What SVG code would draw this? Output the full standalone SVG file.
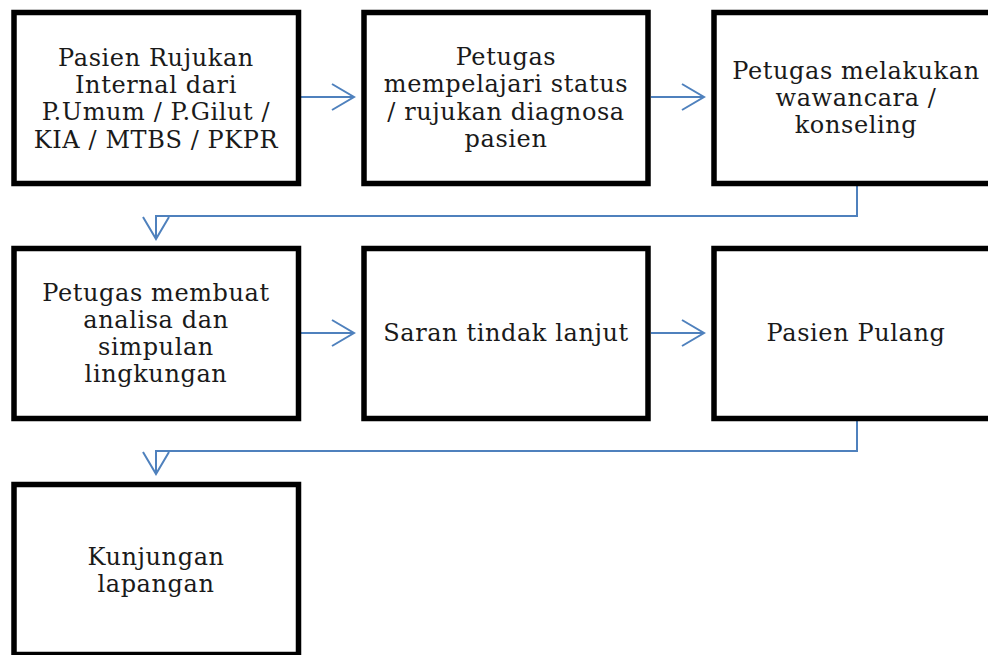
<svg xmlns="http://www.w3.org/2000/svg" width="988" height="655" viewBox="0 0 988 655">
<defs>
<style>
.box{fill:#fff;stroke:#000;stroke-width:5.5;}
.t{font-family:"DejaVu Serif","Liberation Serif",serif;font-size:24px;fill:#1a1a1a;text-anchor:middle;letter-spacing:0.6px;}
.c{fill:none;stroke:#4f81bd;stroke-width:2;}
</style>
<marker id="ah" markerUnits="userSpaceOnUse" markerWidth="30" markerHeight="30" refX="22" refY="13" orient="auto" overflow="visible">
<path d="M0,0 L22,13 L0,26" fill="none" stroke="#4f81bd" stroke-width="2"/>
</marker>
</defs>
<rect width="988" height="655" fill="#fff"/>
<g id="connectors">
<path class="c" d="M301,97 H354" marker-end="url(#ah)"/>
<path class="c" d="M651,97 H704" marker-end="url(#ah)"/>
<path class="c" d="M857,186 V216 H156 V239" marker-end="url(#ah)"/>
<path class="c" d="M301,333 H354" marker-end="url(#ah)"/>
<path class="c" d="M651,333 H704" marker-end="url(#ah)"/>
<path class="c" d="M857,421 V451 H156 V474" marker-end="url(#ah)"/>
</g>
<g id="n1"><rect class="box" x="14" y="12.5" width="284.5" height="171"/>
<text class="t" x="156"><tspan x="156" y="66">Pasien Rujukan</tspan><tspan x="156" y="93">Internal dari</tspan><tspan x="156" y="120">P.Umum / P.Gilut /</tspan><tspan x="156" y="148">KIA / MTBS / PKPR</tspan></text></g>
<g id="n2"><rect class="box" x="364" y="12.5" width="284" height="171"/>
<text class="t" x="506"><tspan x="506" y="65">Petugas</tspan><tspan x="506" y="92">mempelajari status</tspan><tspan x="506" y="120">/ rujukan diagnosa</tspan><tspan x="506" y="147">pasien</tspan></text></g>
<g id="n3"><rect class="box" x="714" y="12.5" width="284" height="171"/>
<text class="t" x="856"><tspan x="856" y="79">Petugas melakukan</tspan><tspan x="856" y="106">wawancara /</tspan><tspan x="856" y="133">konseling</tspan></text></g>
<g id="n4"><rect class="box" x="14" y="248.5" width="284.5" height="170"/>
<text class="t" x="156"><tspan x="156" y="301">Petugas membuat</tspan><tspan x="156" y="328">analisa dan</tspan><tspan x="156" y="355">simpulan</tspan><tspan x="156" y="382">lingkungan</tspan></text></g>
<g id="n5"><rect class="box" x="364" y="248.5" width="284" height="170"/>
<text class="t" x="506" y="341">Saran tindak lanjut</text></g>
<g id="n6"><rect class="box" x="714" y="248.5" width="284" height="170"/>
<text class="t" x="856" y="341">Pasien Pulang</text></g>
<g id="n7"><rect class="box" x="14" y="484.5" width="284.5" height="170"/>
<text class="t" x="156"><tspan x="156" y="565">Kunjungan</tspan><tspan x="156" y="592">lapangan</tspan></text></g>
</svg>
